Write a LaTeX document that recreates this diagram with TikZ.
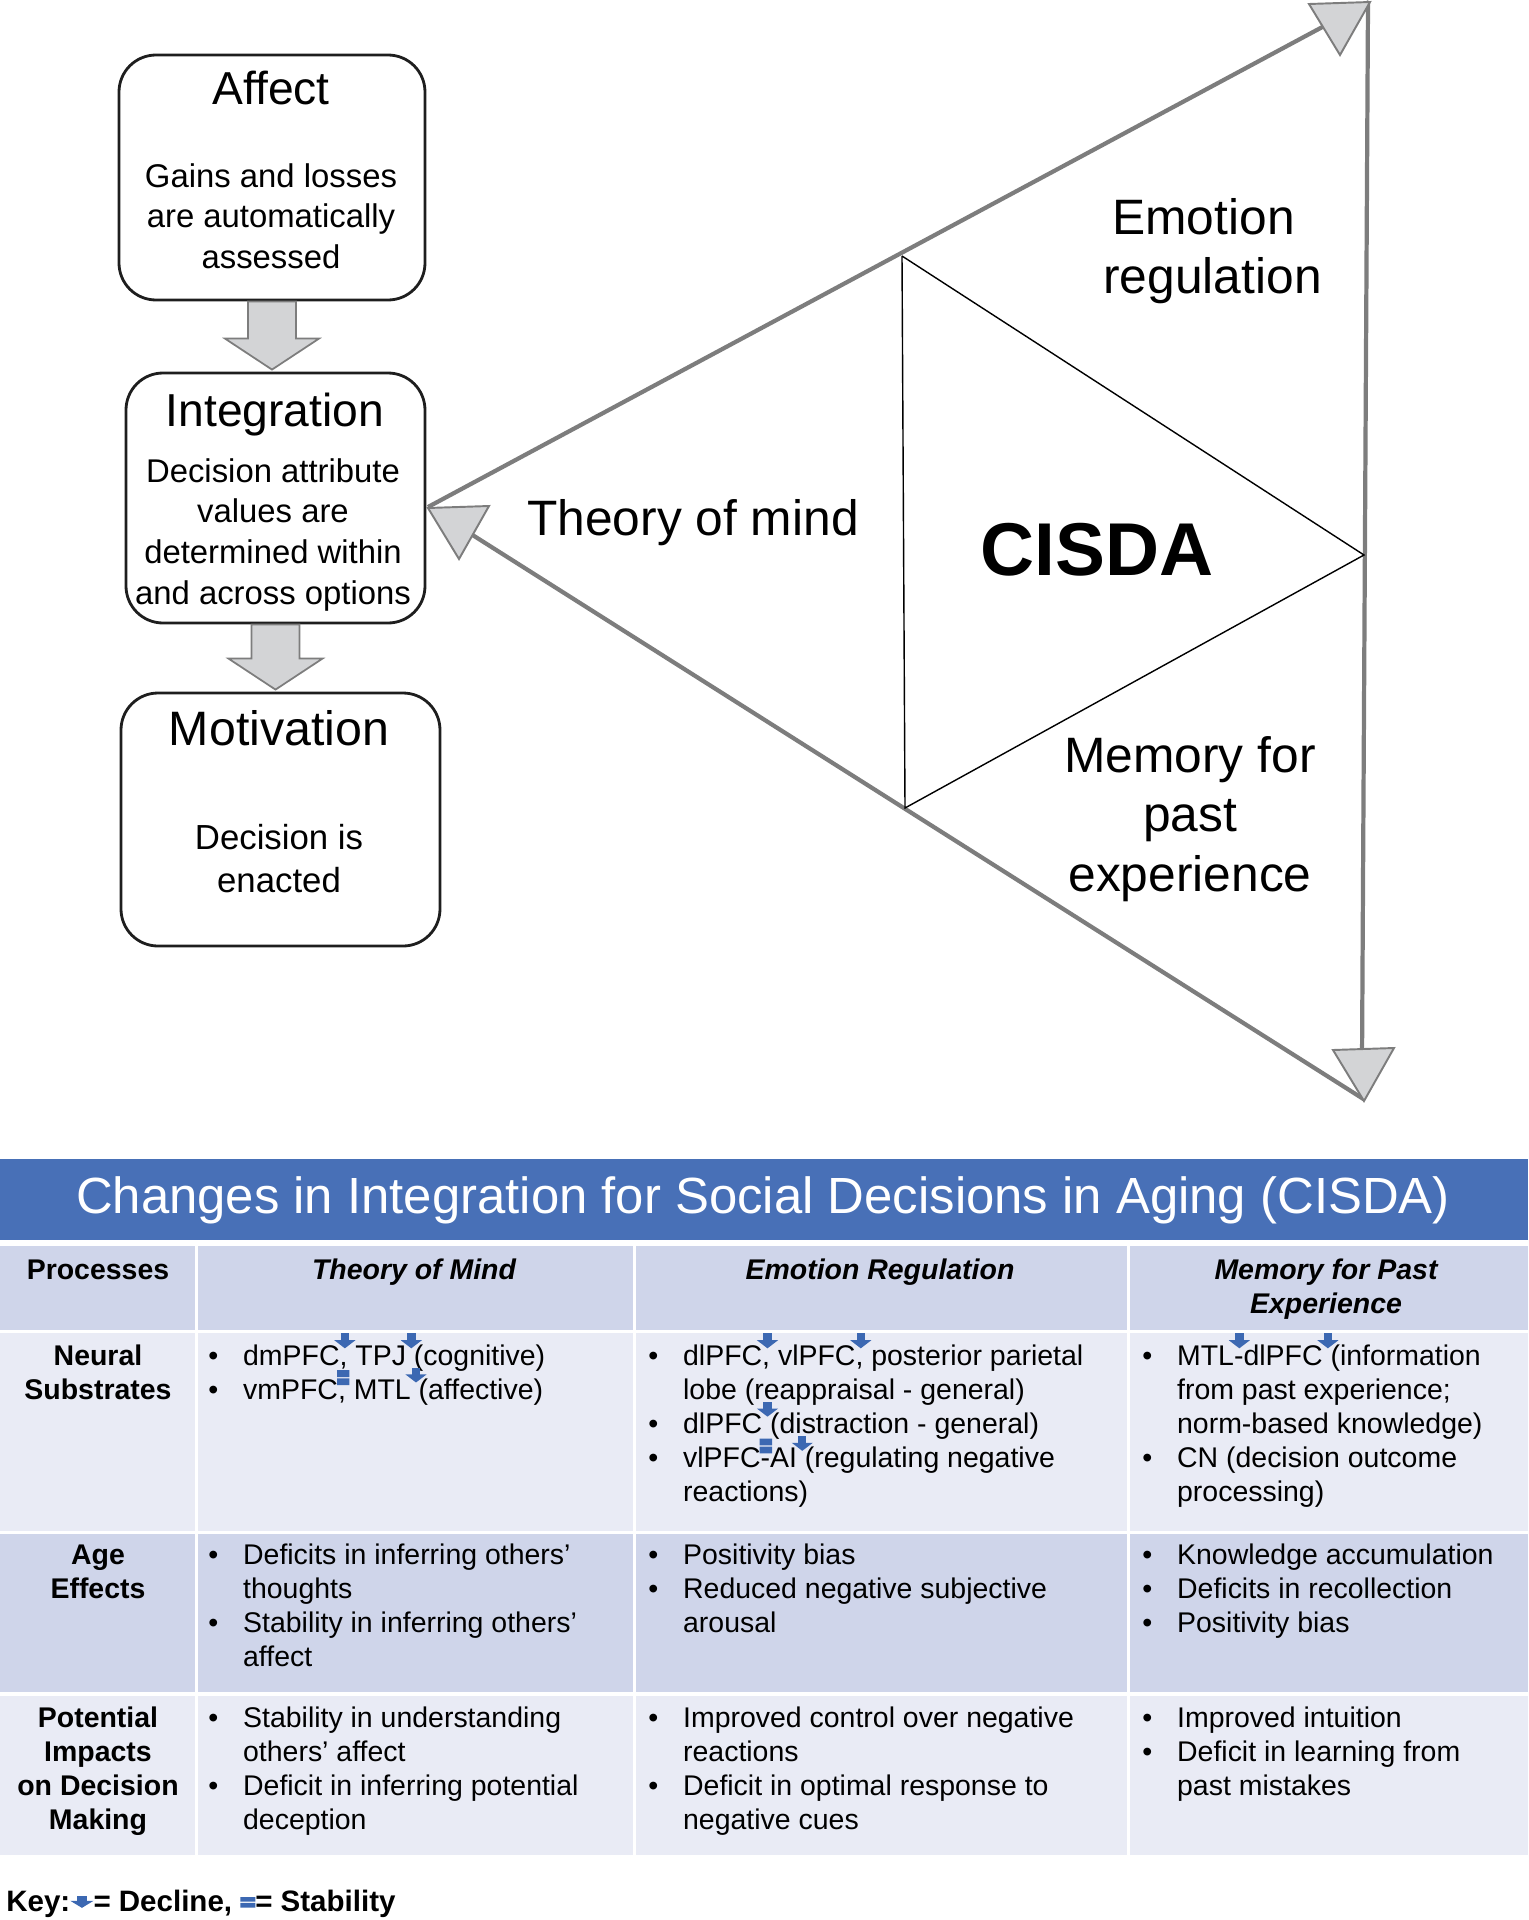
\documentclass[tikz,border=0pt]{standalone}
\usepackage{fontspec}
\setmainfont{Liberation Sans}
\usepackage{xcolor}
\usetikzlibrary{arrows.meta,calc,positioning}

\definecolor{hdrblue}{RGB}{72,112,183}
\definecolor{rowdark}{RGB}{207,213,234}
\definecolor{rowlight}{RGB}{233,235,245}
\definecolor{iconblue}{RGB}{60,104,178}
\definecolor{trigray}{RGB}{125,125,125}
\definecolor{headfill}{RGB}{211,212,214}
\definecolor{boxline}{RGB}{30,30,30}

\newlength\px
\setlength\px{0.02cm}
\newcommand\tabfont{\fontsize{16.2}{19.45}\selectfont}
\newcommand\stack[1]{\begin{tabular}[t]{@{}c@{}}#1\end{tabular}}
\newcommand\blist[1]{\begin{tabular}[t]{@{}p{19.8pt}@{}l@{}}#1\end{tabular}}
\newcommand\bu{\textbullet}
% small marks above the text
\newcommand\dcl{\makebox[0pt]{\hspace{6pt}\raisebox{9.5pt}[0pt][0pt]{\tikz[x=1pt,y=1pt]{\fill[iconblue] (-2.4,4) rectangle (2.4,8.5); \fill[iconblue] (-6,4.6) -- (6,4.6) -- (0,0) -- cycle;}}}}
\newcommand\stb{\makebox[0pt]{\hspace{6pt}\raisebox{8pt}[0pt][0pt]{\tikz[x=1pt,y=1pt]{\fill[iconblue] (0,0) rectangle (7,3.9) (0,4.6) rectangle (7,8.5);}}}}
\newcommand\keydcl{\raisebox{1.8pt}{\tikz[x=1pt,y=1pt]{\fill[iconblue] (-3,3.5) rectangle (3,7); \fill[iconblue] (-6.6,4) -- (6.6,4) -- (0,0) -- cycle;}}}
\newcommand\keystb{\raisebox{2pt}{\tikz[x=1pt,y=1pt]{\fill[iconblue] (0,0) rectangle (8.5,2.6) (0,3.3) rectangle (8.5,5.9);}}}
\newcommand\blockarrow[2]{\draw[blockarr] ($(#1.south)+(-24,0)$) -- ($(#2.north -| #1.south)+(-24,-33)$) -- ($(#2.north -| #1.south)+(-47,-33)$) -- ($(#2.north -| #1.south)+(0,-2)$) -- ($(#2.north -| #1.south)+(47,-33)$) -- ($(#2.north -| #1.south)+(24,-33)$) -- ($(#1.south)+(24,0)$) -- cycle;}

\begin{document}
\begin{tikzpicture}[x=0.02cm,y=-0.02cm,
    boxnode/.style={draw=boxline,line width=1.6pt,rounded corners=37\px,inner sep=0},
    boxtitle/.style={font=\fontsize{26.3}{30}\selectfont,anchor=base},
    boxbody/.style={font=\fontsize{18.7}{23.2}\selectfont,anchor=base,inner sep=0},
    blockarr/.style={draw=trigray,line width=1pt,fill=headfill},
    bigline/.style={draw=trigray,line width=2.4pt},
    thinline/.style={draw=black,line width=0.8pt},
    marker/.style={draw=trigray,line width=1.1pt,fill=headfill,line join=miter},
    trilabel/.style={font=\fontsize{28.3}{34}\selectfont,anchor=base,inner sep=0},
    hdr/.style={font=\tabfont\bfseries\itshape,anchor=base,inner sep=0},
    rowlab/.style={font=\tabfont\bfseries,anchor=base,inner sep=0},
    txt/.style={font=\tabfont,anchor=base west,inner sep=0}]
\useasboundingbox (0,0) rectangle (1528,1920);

% stages
\node[boxnode,minimum width=306\px,minimum height=245\px] (affect) at (272,177.5) {};
\node[boxnode,minimum width=299\px,minimum height=250\px] (integ) at (275.5,498) {};
\node[boxnode,minimum width=319\px,minimum height=253\px] (motiv) at (280.5,819.5) {};
\blockarrow{affect}{integ}
\blockarrow{integ}{motiv}
\node[boxtitle] (affectT) at (271,104) {Affect};
\node[boxbody] (affectB) at (271,187) {\stack{Gains and losses\\are automatically\\assessed}};
\node[boxtitle] (integT) at (275,426) {Integration};
\node[boxbody] (integB) at (273,482) {\stack{Decision attribute\\values are\\determined within\\and across options}};
\node[boxtitle,font=\fontsize{27.5}{30}\selectfont] (motivT) at (279,745) {Motivation};
\node[boxbody,font=\fontsize{19.8}{24.5}\selectfont] (motivB) at (279,849) {\stack{Decision is\\enacted}};

% triangle
\coordinate (tL) at (428,507);
\coordinate (tTR) at (1369,2);
\coordinate (tBR) at (1365,1100);
\coordinate (tLin) at (452,522);
\coordinate (vTop) at (1368,2);
\coordinate (vBot) at (1362,1060);
\coordinate (iTop) at (902,256);
\coordinate (iBot) at (905,808);
\coordinate (iR) at (1364,555);
\draw[bigline] (tL) -- (tTR);
\draw[bigline] (vTop) -- (vBot);
\draw[bigline] (tBR) -- (tLin);
\draw[thinline] (iTop) -- (iBot) -- (iR) -- (iTop);
\foreach \p in {(1309,4),(428,508),(1333,1050)}
  \draw[marker] \p -- ++(61,-2) -- ++(-30,53) -- cycle;
\node[trilabel] (emo) at (1208,234) {\stack{\hspace*{-9\px}Emotion\\\hspace*{9\px}regulation}};
\node[trilabel] (tom) at (693,535) {Theory of mind};
\node[font=\fontsize{42.6}{50}\selectfont\bfseries,anchor=base,inner sep=0] (cisda) at (1097,575) {CISDA};
\node[trilabel] (mem) at (1190,772) {\stack{Memory for\\past\\experience}};

% table
\fill[hdrblue] (0,1159) rectangle (1528,1240);
\node[font=\fontsize{28.95}{34}\selectfont,text=white,anchor=base,inner sep=0] (title) at (763,1213) {Changes in Integration for Social Decisions in Aging (CISDA)};
\foreach \ya/\yb/\col in {1246/1330/rowdark,1333/1531/rowlight,1534/1692/rowdark,1696/1855/rowlight}
  \foreach \xa/\xb in {0/195,198/633,636/1127,1130/1528}
    \fill[\col] (\xa,\ya) rectangle (\xb,\yb);

\node[rowlab] (hProc) at (98,1279) {Processes};
\node[hdr] (hTom) at (414,1279) {Theory of Mind};
\node[hdr] (hEmo) at (880,1279) {Emotion Regulation};
\node[hdr] (hMem) at (1326,1279) {\stack{Memory for Past\\Experience}};

\node[rowlab] (rNeur) at (98,1365) {\stack{Neural\\Substrates}};
\node[rowlab] (rAge) at (98,1564) {\stack{Age\\Effects}};
\node[rowlab] (rImp) at (98,1727) {\stack{Potential\\Impacts\\on Decision\\Making}};

\node[txt] (nTom) at (208,1365) {\blist{\bu & dmPFC\dcl, TPJ\dcl{} (cognitive)\\
  \bu & vmPFC\stb, MTL\dcl{} (affective)}};
\node[txt] (nEmo) at (648,1365) {\blist{\bu & dlPFC\dcl, vlPFC\dcl, posterior parietal\\
  & lobe (reappraisal - general)\\
  \bu & dlPFC\dcl{} (distraction - general)\\
  \bu & vlPFC\stb-AI\dcl{} (regulating negative\\
  & reactions)}};
\node[txt] (nMem) at (1142,1365) {\blist{\bu & MTL\dcl-dlPFC\dcl{} (information\\
  & from past experience;\\
  & norm-based knowledge)\\
  \bu & CN (decision outcome\\
  & processing)}};

\node[txt] (aTom) at (208,1564) {\blist{\bu & Deficits in inferring others’\\
  & thoughts\\
  \bu & Stability in inferring others’\\
  & affect}};
\node[txt] (aEmo) at (648,1564) {\blist{\bu & Positivity bias\\
  \bu & Reduced negative subjective\\
  & arousal}};
\node[txt] (aMem) at (1142,1564) {\blist{\bu & Knowledge accumulation\\
  \bu & Deficits in recollection\\
  \bu & Positivity bias}};

\node[txt] (pTom) at (208,1727) {\blist{\bu & Stability in understanding\\
  & others’ affect\\
  \bu & Deficit in inferring potential\\
  & deception}};
\node[txt] (pEmo) at (648,1727) {\blist{\bu & Improved control over negative\\
  & reactions\\
  \bu & Deficit in optimal response to\\
  & negative cues}};
\node[txt] (pMem) at (1142,1727) {\blist{\bu & Improved intuition\\
  \bu & Deficit in learning from\\
  & past mistakes}};

\node[txt,font=\fontsize{16.8}{20}\selectfont\bfseries] (key) at (6,1911) {Key:\keydcl= Decline, \keystb= Stability};
\end{tikzpicture}
\end{document}
